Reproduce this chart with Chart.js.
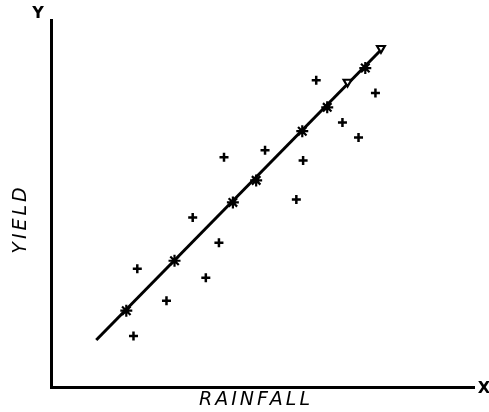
<!DOCTYPE html>
<html>
<head>
<meta charset="utf-8">
<script src="https://cdn.jsdelivr.net/npm/chart.js@4.4.1/dist/chart.umd.min.js"></script>
<style>
  html, body { margin: 0; padding: 0; background: #fff; }
  #wrap { width: 489px; height: 412px; }
</style>
</head>
<body>
<div id="wrap"><canvas id="c" width="489" height="412"></canvas></div>
<script>
// Rainfall (x) and yield (y), arbitrary units 0-100.
// Observations lying on the fitted line (asterisks)
const fittedRain  = [17.8, 29.2, 43.0, 48.5, 59.4, 65.3, 74.3];
const fittedYield = [20.8, 34.4, 50.3, 56.3, 69.7, 76.2, 86.9];

// Scattered observations (crosses)
const obsRain  = [20.4, 19.5, 27.3, 33.5, 36.6, 39.7, 40.9, 50.6, 58.0, 59.6, 62.7, 68.9, 72.7, 76.7];
const obsYield = [32.2, 13.9, 23.5, 46.2, 29.8, 39.3, 62.6, 64.5, 51.1, 61.7, 83.6, 72.1, 68.0, 80.1];

// Small triangles near the upper end of the line
const triRain  = [70.1, 78.0];
const triYield = [83.1, 92.3];

// Regression line end points
const lineRain  = [10.7, 78.4];
const lineYield = [12.8, 92.3];

// Axis captions
const xTitle = 'RAINFALL';
const yTitle = 'YIELD';
const xLetter = 'X';
const yLetter = 'Y';

const pts = (xs, ys) => xs.map((x, i) => ({ x, y: ys[i] }));

const ink = '#000';
const letterFont = 'italic 19px "DejaVu Sans"';

// Hand-lettered captions drawn with extra letter spacing
const captions = {
  id: 'captions',
  afterDraw(chart) {
    const { ctx } = chart;
    ctx.save();
    ctx.fillStyle = ink;
    ctx.font = letterFont;
    ctx.textAlign = 'center';
    ctx.textBaseline = 'middle';
    if ('letterSpacing' in ctx) ctx.letterSpacing = '3px';
    ctx.fillText(xTitle, 256, 400);
    ctx.save();
    ctx.translate(21, 219);
    ctx.rotate(-Math.PI / 2);
    ctx.fillText(yTitle, 0, 0);
    ctx.restore();
    if ('letterSpacing' in ctx) ctx.letterSpacing = '0px';
    ctx.font = 'bold 16px "DejaVu Sans"';
    ctx.fillText(yLetter, 38, 14);
    ctx.fillText(xLetter, 484, 389);
    ctx.restore();
  }
};

new Chart(document.getElementById('c'), {
  type: 'scatter',
  data: {
    datasets: [
      {
        label: 'Fitted line',
        data: pts(lineRain, lineYield),
        showLine: true,
        borderColor: ink,
        borderWidth: 3,
        pointRadius: 0,
        order: 3
      },
      {
        label: 'On line',
        data: pts(fittedRain, fittedYield),
        pointStyle: 'star',
        pointRadius: 6,
        borderColor: ink,
        backgroundColor: ink,
        borderWidth: 2.2,
        order: 1
      },
      {
        label: 'Observed',
        data: pts(obsRain, obsYield),
        pointStyle: 'cross',
        pointRadius: 4.5,
        borderColor: ink,
        borderWidth: 2.5,
        order: 2
      },
      {
        label: 'Triangles',
        data: pts(triRain, triYield),
        pointStyle: 'triangle',
        pointRadius: 4.5,
        rotation: 180,
        borderColor: ink,
        backgroundColor: '#fff',
        borderWidth: 2.2,
        order: 0
      }
    ]
  },
  options: {
    responsive: false,
    animation: false,
    devicePixelRatio: 1,
    layout: { padding: { left: 51, right: 15, top: 20, bottom: 25 } },
    plugins: {
      legend: { display: false },
      tooltip: { enabled: false }
    },
    scales: {
      x: {
        type: 'linear',
        min: 0, max: 100,
        grid: { display: false, drawTicks: false },
        border: { display: true, color: ink, width: 3 },
        ticks: { display: false }
      },
      y: {
        type: 'linear',
        min: 0, max: 100,
        grid: { display: false, drawTicks: false },
        border: { display: true, color: ink, width: 3 },
        ticks: { display: false }
      }
    }
  },
  plugins: [captions]
});
</script>
</body>
</html>
